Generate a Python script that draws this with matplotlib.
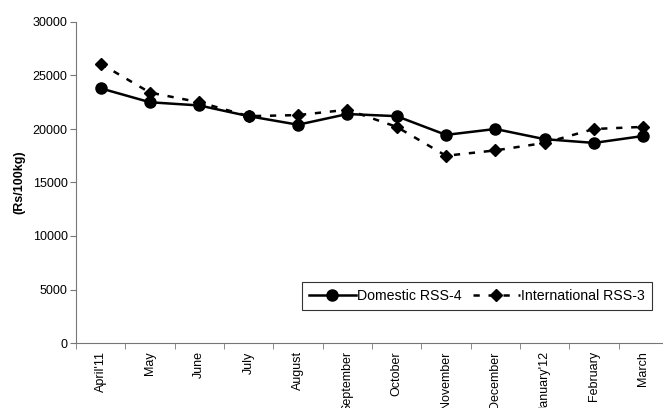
import numpy as np
import matplotlib.pyplot as plt

plt.rcParams['font.family'] = ['Liberation Sans', 'DejaVu Sans']

# Monthly prices (Rs/100kg)
months = ["April'11", "May", "June", "July", "August", "September", "October",
          "November", "December", "January'12", "February", "March"]
domestic = [23800, 22500, 22200, 21200, 20400, 21400, 21200, 19450, 20000, 19050, 18700, 19350]
international = [26100, 23400, 22500, 21200, 21300, 21800, 20200, 17500, 18000, 18700, 20000, 20200]

fig = plt.figure(figsize=(6.63, 4.08), dpi=100)
ax = fig.add_axes([76 / 663, 1 - 343 / 408, 592 / 663, 321 / 408])

x = np.arange(len(months))
ax.plot(x, domestic, color="black", linewidth=1.8, marker="o", markersize=8,
        label="Domestic RSS-4")
ax.plot(x, international, color="black", linewidth=1.8, linestyle=(0, (2.5, 3.5)),
        marker="D", markersize=6, label="International RSS-3")

ax.set_xlim(-0.5, len(months) - 0.5)
ax.set_ylim(0, 30000)
ax.set_yticks(range(0, 30001, 5000))
ax.set_xticks(x)
ax.set_xticklabels(months, rotation=90, fontsize=9)
ax.set_xticks(np.arange(-0.5, len(months), 1), minor=True)
ax.tick_params(axis="x", which="major", length=0, pad=6)
ax.tick_params(axis="x", which="minor", length=4, color="#777777")
ax.tick_params(axis="y", labelsize=9, length=4, color="#777777", pad=2)
ax.set_ylabel("(Rs/100kg)", fontsize=9, fontweight="bold", labelpad=5)

for s in ["top", "right"]:
    ax.spines[s].set_visible(False)
for s in ["left", "bottom"]:
    ax.spines[s].set_color("#777777")

leg = ax.legend(loc="lower right", ncol=2, fontsize=10.2, frameon=True, fancybox=False,
                edgecolor="black", borderpad=0.5, handlelength=3.3, columnspacing=0.8,
                handletextpad=0.1, borderaxespad=0, bbox_to_anchor=(0.973, 0.103))
leg.get_frame().set_linewidth(0.8)

fig.savefig("out.png", dpi=100)
